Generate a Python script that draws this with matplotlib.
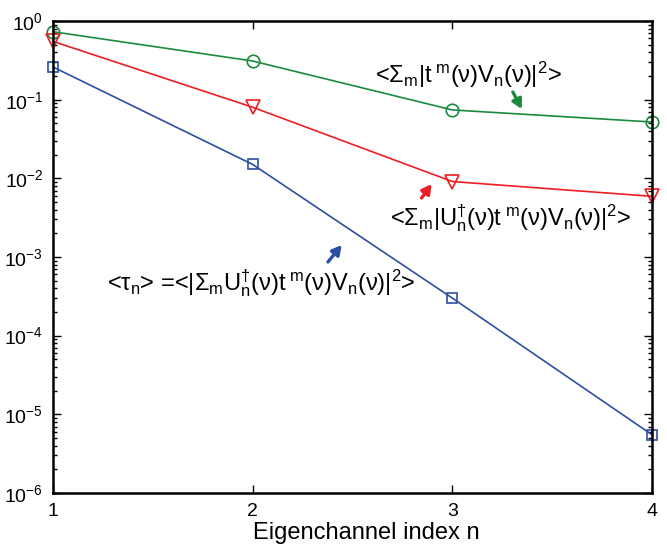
import numpy as np
import matplotlib
matplotlib.use('Agg')
import matplotlib.pyplot as plt

# 数据
n_index = [1, 2, 3, 4]
sum_t_v = [0.73, 0.31, 0.074, 0.052]          # green circles
sum_u_t_v = [0.55, 0.080, 0.0091, 0.0059]     # red triangles
tau_n = [0.26, 0.015, 3.0e-4, 5.5e-6]          # blue squares
x_ticks = [1, 2, 3, 4]
x_label = 'Eigenchannel index n'

# 混合普通文本和mathtext，避免 < > = 周围的多余间距
label_green = r'<$\Sigma_{\rm m}$|t$^{\ \rm m}$($\nu$)V$_{\rm n}$($\nu$)|$^2$>'
label_red = r'<$\Sigma_{\rm m}$|U$_{\rm n}^{\dagger}$($\nu$)t$^{\ \rm m}$($\nu$)V$_{\rm n}$($\nu$)|$^2$>'
label_blue = r'<$\tau_{\rm n}$> =<|$\Sigma_{\rm m}$U$_{\rm n}^{\dagger}$($\nu$)t$^{\ \rm m}$($\nu$)V$_{\rm n}$($\nu$)|$^2$>'

green = '#1b8a3e'
red = '#ee1d23'
blue = '#2c4fa3'

plt.rcParams['font.family'] = ['Liberation Sans', 'DejaVu Sans']
plt.rcParams['mathtext.fontset'] = 'custom'
plt.rcParams['mathtext.rm'] = 'Liberation Sans'
plt.rcParams['mathtext.it'] = 'Liberation Sans'
plt.rcParams['mathtext.bf'] = 'Liberation Sans:bold'

fig = plt.figure(figsize=(6.67, 5.48), dpi=100)
ax = fig.add_axes([0.0795, 0.1004, 0.898, 0.8613])

ax.plot(n_index, sum_t_v, color=green, lw=1.2, marker='o', ms=9, mfc='none', mew=1.2, clip_on=False)
ax.plot(n_index, sum_u_t_v, color=red, lw=1.2, marker='v', ms=10, mfc='none', mew=1.2, clip_on=False)
ax.plot(n_index, tau_n, color=blue, lw=1.2, marker='s', ms=7, mfc='none', mew=1.2, clip_on=False)

ax.set_yscale('log')
ax.set_ylim(1e-6, 1)
ax.set_xlim(1, 4)
ax.set_xticks(x_ticks)
ax.set_xticklabels([str(v) for v in x_ticks])
ax.set_xlabel(x_label, fontsize=17)
ax.xaxis.set_label_coords(0.523, -0.062, transform=ax.transAxes)
ax.xaxis.label.set_va('top')

ax.tick_params(which='both', direction='in', top=True, right=True, labelsize=14, pad=7)
ax.tick_params(which='major', length=6, width=1)
ax.tick_params(which='minor', length=3, width=1)
ax.tick_params(axis='x', which='minor', bottom=False, top=False)
for sp in ax.spines.values():
    sp.set_linewidth(1.8)

# 标注文字和箭头（数据坐标）
def arrow(tail, head, col):
    ax.annotate('', xy=head, xytext=tail, xycoords='data',
                arrowprops=dict(arrowstyle='-|>,head_length=0.55,head_width=0.3',
                                color=col, lw=2.4, shrinkA=0, shrinkB=0))

ax.text(3.078, 0.206, label_green, ha='center', va='center', fontsize=17)
arrow((3.303, 0.125), (3.348, 0.076), green)

ax.text(3.293, 0.00313, label_red, ha='center', va='center', fontsize=17)
arrow((2.846, 0.00562), (2.896, 0.00847), red)

ax.text(2.042, 4.68e-4, label_blue, ha='center', va='center', fontsize=17)
arrow((2.377, 8.64e-4), (2.446, 1.42e-3), blue)

fig.savefig('out.png', dpi=100)
